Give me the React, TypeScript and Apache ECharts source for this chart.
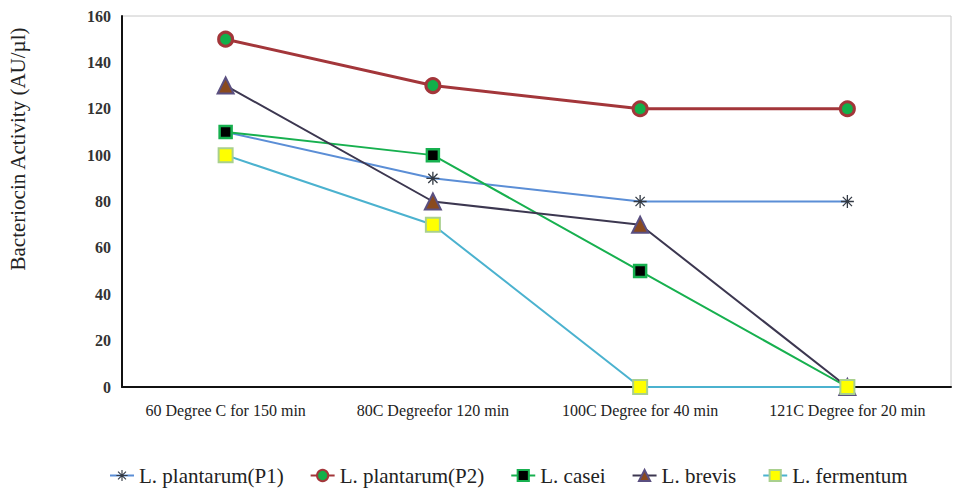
import React, { useEffect, useRef } from "react";
import * as echarts from "echarts";

const categories = [
  "60 Degree C for 150 min",
  "80C Degreefor 120 min",
  "100C Degree for 40 min",
  "121C Degree for 20 min",
];
const seriesNames = [
  "L. plantarum(P1)",
  "L. plantarum(P2)",
  "L. casei",
  "L. brevis",
  "L. fermentum",
];
const plantarumP1 = [110, 90, 80, 80];
const plantarumP2 = [150, 130, 120, 120];
const casei = [110, 100, 50, 0];
const brevis = [130, 80, 70, 0];
const fermentum = [100, 70, 0, 0];
const yTicks = { min: 0, max: 160, interval: 20 };
const yAxisTitle = "Bacteriocin Activity (AU/µl)";

const asterisk =
  "path://M9,0 L11,0 L11,20 L9,20 Z M0,9 L20,9 L20,11 L0,11 Z M2.2,3.6 L3.6,2.2 L17.8,16.4 L16.4,17.8 Z M16.4,2.2 L17.8,3.6 L3.6,17.8 L2.2,16.4 Z";

export default function App() {
  const ref = useRef<HTMLDivElement>(null);
  useEffect(() => {
    if (!ref.current) return;
    const chart = echarts.init(ref.current, undefined, { renderer: "svg" });
    const font = "Liberation Serif";
    chart.setOption({
      animation: false,
      backgroundColor: "#ffffff",
      textStyle: { fontFamily: font },
      grid: {
        left: 122,
        right: 9,
        top: 16,
        bottom: 112,
        show: true,
        borderColor: "#c8c8c8",
        borderWidth: 1,
      },
      graphic: [
        {
          type: "text",
          x: 18,
          y: 149,
          rotation: Math.PI / 2,
          style: {
            text: yAxisTitle,
            fontFamily: font,
            fontSize: 21,
            fill: "#222",
            align: "center",
            verticalAlign: "middle",
          },
        },
      ],
      legend: {
        bottom: 8,
        left: 104,
        itemGap: 26,
        itemWidth: 24,
        itemHeight: 14,
        textStyle: { fontFamily: font, fontSize: 21, color: "#222" },
        data: seriesNames,
      },
      xAxis: {
        type: "category",
        data: categories,
        boundaryGap: true,
        axisLine: { lineStyle: { color: "#111", width: 2 } },
        axisTick: { show: false },
        axisLabel: { fontFamily: font, fontSize: 16, color: "#222", margin: 15, interval: 0 },
      },
      yAxis: {
        type: "value",
        min: yTicks.min,
        max: yTicks.max,
        interval: yTicks.interval,
        axisLine: { show: true, lineStyle: { color: "#111", width: 2 } },
        axisTick: { show: false },
        splitLine: { show: false },
        axisLabel: { fontFamily: font, fontSize: 16, fontWeight: "bold", color: "#333", margin: 11 },
      },
      series: [
        {
          name: seriesNames[0],
          type: "line",
          data: plantarumP1,
          symbol: asterisk,
          symbolSize: 13,
          lineStyle: { color: "#5b8ed6", width: 2 },
          itemStyle: { color: "#333a44", borderColor: "#333a44", borderWidth: 0 },
          z: 3,
        },
        {
          name: seriesNames[1],
          type: "line",
          data: plantarumP2,
          symbol: "circle",
          symbolSize: 14,
          lineStyle: { color: "#a3363a", width: 3 },
          itemStyle: { color: "#12b04a", borderColor: "#a3363a", borderWidth: 3 },
          z: 4,
        },
        {
          name: seriesNames[2],
          type: "line",
          data: casei,
          symbol: "rect",
          symbolSize: 12,
          lineStyle: { color: "#17b04f", width: 2 },
          itemStyle: { color: "#000000", borderColor: "#17b04f", borderWidth: 2.5 },
          z: 5,
        },
        {
          name: seriesNames[3],
          type: "line",
          data: brevis,
          symbol: "triangle",
          symbolSize: 16,
          lineStyle: { color: "#3c3750", width: 2 },
          itemStyle: { color: "#8a4a1e", borderColor: "#5a4f80", borderWidth: 2 },
          z: 6,
        },
        {
          name: seriesNames[4],
          type: "line",
          data: fermentum,
          symbol: "rect",
          symbolSize: 14,
          lineStyle: { color: "#4bb2cf", width: 2 },
          itemStyle: { color: "#ffff00", borderColor: "#a9d08e", borderWidth: 2 },
          z: 7,
        },
      ],
    });
    return () => chart.dispose();
  }, []);
  return (
    <div
      ref={ref}
      style={{ position: "fixed", left: 0, top: 0, width: 960, height: 499 }}
    />
  );
}
